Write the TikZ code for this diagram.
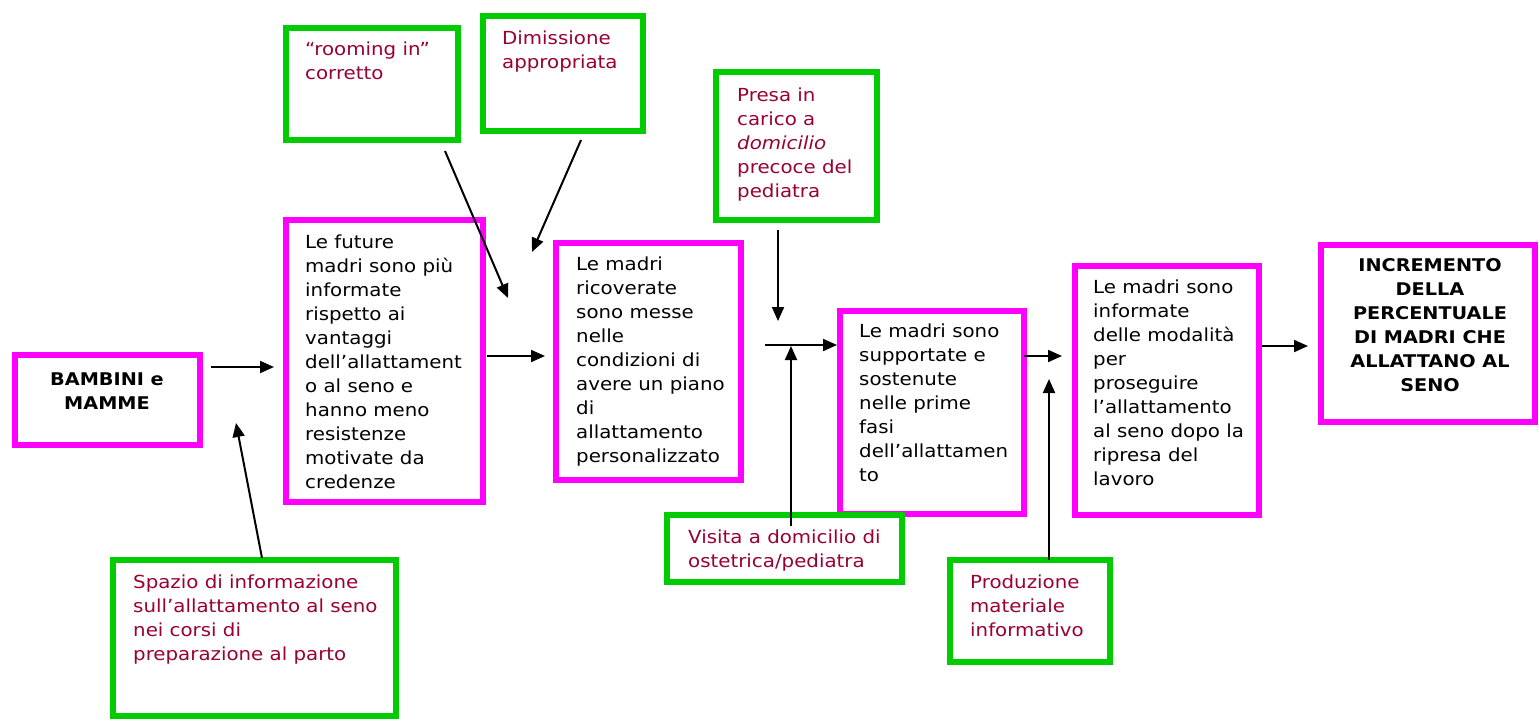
\documentclass[tikz,border=0pt]{standalone}
\usepackage{fontspec}
\setmainfont[FakeStretch=1.1]{DejaVu Sans}
\usetikzlibrary{arrows.meta,calc}
\definecolor{mag}{RGB}{255,0,255}
\definecolor{grn}{RGB}{0,204,0}
\definecolor{txr}{RGB}{153,0,51}
\newcommand{\tst}{\rule{0pt}{14.5pt}}
\begin{document}
\begin{tikzpicture}[x=1pt,y=-1pt,
 mbox/.style={draw=mag,line width=6pt,fill=white,inner sep=0pt,outer sep=0pt},
 gbox/.style={draw=grn,line width=6pt,fill=white,inner sep=0pt,outer sep=0pt},
 txt/.style={anchor=north west,align=left,inner sep=0pt,font=\fontsize{18}{24}\selectfont},
 gtxt/.style={txt,text=txr},
 btxt/.style={anchor=north,align=center,inner sep=0pt,font=\fontsize{17.5}{24}\selectfont\bfseries},
 arr/.style={line width=2pt,-{Triangle[length=14pt,width=12pt]}}]
\useasboundingbox (0,0) rectangle (1539,723);
% magenta boxes
\node[mbox,minimum width=185pt,minimum height=90pt] (b1) at (107.5,400) {};
\node[mbox,minimum width=197pt,minimum height=282pt] (b2) at (384.5,361) {};
\node[mbox,minimum width=185pt,minimum height=237pt] (b3) at (648.5,361.5) {};
\node[mbox,minimum width=184pt,minimum height=203pt] (b4) at (932,412.5) {};
\node[mbox,minimum width=184pt,minimum height=249pt] (b5) at (1167,390.5) {};
\node[mbox,minimum width=214pt,minimum height=177pt] (b6) at (1428,333.5) {};
% green boxes
\node[gbox,minimum width=172pt,minimum height=112pt] (g1) at (372,84) {};
\node[gbox,minimum width=160pt,minimum height=115pt] (g2) at (563,73.5) {};
\node[gbox,minimum width=161pt,minimum height=148pt] (g3) at (796.5,146) {};
\node[gbox,minimum width=235pt,minimum height=67pt] (g4) at (784.5,548.5) {};
\node[gbox,minimum width=160pt,minimum height=102pt] (g5) at (1030,611) {};
\node[gbox,minimum width=283pt,minimum height=156pt] (g6) at (254.5,638) {};
% texts
\node[btxt] (t1) at (107,371) {\tst BAMBINI e\\MAMME};
\node[txt] (t2) at (305,234) {\tst Le future\\madri sono più\\informate\\rispetto ai\\vantaggi\\dell’allattament\\o al seno e\\hanno meno\\resistenze\\motivate da\\credenze};
\node[txt] (t3) at (576,256) {\tst Le madri\\ricoverate\\sono messe\\nelle\\condizioni di\\avere un piano\\di\\allattamento\\personalizzato};
\node[txt] (t4) at (859,323) {\tst Le madri sono\\supportate e\\sostenute\\nelle prime\\fasi\\dell’allattamen\\to};
\node[txt] (t5) at (1093,279) {\tst Le madri sono\\informate\\delle modalità\\per\\proseguire\\l’allattamento\\al seno dopo la\\ripresa del\\lavoro};
\node[btxt] (t6) at (1430,257) {\tst INCREMENTO\\DELLA\\PERCENTUALE\\DI MADRI CHE\\ALLATTANO AL\\SENO};
\node[gtxt] (tg1) at (305,41) {\tst “rooming in”\\corretto};
\node[gtxt] (tg2) at (502,30) {\tst Dimissione\\appropriata};
\node[gtxt] (tg3) at (737,87) {\tst Presa in\\carico a\\\textit{domicilio}\\precoce del\\pediatra};
\node[gtxt] (tg4) at (688,529) {\tst Visita a domicilio di\\ostetrica/pediatra};
\node[gtxt] (tg5) at (970,574) {\tst Produzione\\materiale\\informativo};
\node[gtxt] (tg6) at (133,574) {\tst Spazio di informazione\\sull’allattamento al seno\\nei corsi di\\preparazione al parto};
% free arrow ends
\coordinate (p2) at (236,423);
\coordinate (p4) at (508,298);
\coordinate (p5) at (532,252);
\coordinate (p6) at (765,345);
\coordinate (p7) at (778,321);
\coordinate (p8) at (791,346);
\coordinate (p10) at (1049,379);
% arrows
\draw[arr] ($(b1.east)+(11,-33)$) -- ($(b2.west)+(-12,6)$);
\draw[arr] ($(g6.north)+(7.5,-2)$) -- (p2);
\draw[arr] ($(b2.east)+(4,-5)$) -- ($(b3.west)+(-11,-5.5)$);
\draw[arr] ($(g1.south)+(73,11)$) -- (p4);
\draw[arr] ($(g2.south)+(18,9)$) -- (p5);
\draw[arr] (p6) -- ($(b4.west)+(-3,-67.5)$);
\draw[arr] ($(g3.south)+(-18.5,10)$) -- (p7);
\draw[arr] ($(g4.north)+(6.5,11)$) -- (p8);
\draw[arr] ($(b4.east)+(0,-56.5)$) -- ($(b5.west)+(-13,-34.5)$);
\draw[arr] ($(g5.north)+(19,0)$) -- (p10);
\draw[arr] ($(b5.east)+(3,-44.5)$) -- ($(b6.west)+(-13,12.5)$);
\end{tikzpicture}
\end{document}
